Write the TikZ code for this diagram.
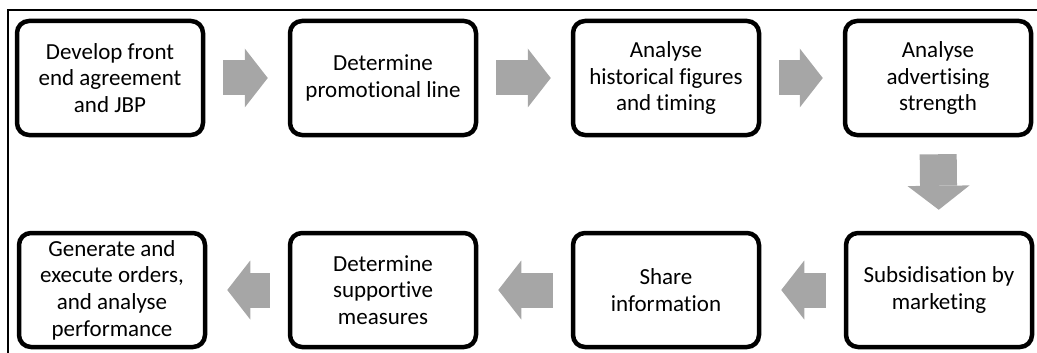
\documentclass[tikz,border=0pt]{standalone}
\usepackage{fontspec}
\setmainfont[Ligatures=NoCommon]{Carlito}
\usetikzlibrary{arrows.meta}
\definecolor{arrowgray}{HTML}{A6A6A6}
\tikzset{
  stepbox/.style={draw=black, line width=4.5pt, rounded corners=12pt, minimum width=186pt, minimum height=114pt, align=center, inner sep=0pt, font=\fontsize{23}{26.7}\selectfont, fill=white},
  bigarrow/.style={draw=arrowgray, line width=35pt, -{Triangle[width=59pt,length=23pt,line width=0pt]}, shorten <=18pt, shorten >=20pt},
  downarrow/.style={draw=arrowgray, line width=37pt, -{Triangle[width=62pt,length=24pt,line width=0pt]}}
}
\begin{document}
\begin{tikzpicture}[x=1pt,y=1pt]
\useasboundingbox (0,0) rectangle (1037,-353);
\draw[line width=1.5pt] (8,-353) -- (8,-10) -- (1037,-10);
\node[stepbox] (n1) at (110,-78) {Develop front\\end agreement\\and JBP};
\node[stepbox] (n2) at (383,-78) {Determine\\promotional line};
\node[stepbox] (n3) at (666,-78) {Analyse\\historical figures\\and timing};
\node[stepbox] (n4) at (938,-78) {Analyse\\advertising\\strength};
\node[stepbox] (n5) at (939,-290) {Subsidisation by\\marketing};
\node[stepbox] (n6) at (666,-290) {Share\\information};
\node[stepbox] (n7) at (383,-290) {Determine\\supportive\\measures};
\node[stepbox] (n8) at (112,-290) {Generate and\\execute orders,\\and analyse\\performance};
\draw[bigarrow] (n1) -- (n2);
\draw[bigarrow] (n2) -- (n3);
\draw[bigarrow] (n3) -- (n4);
\draw[downarrow, shorten <=17pt, shorten >=21pt] (n4.south) -- (n5.north);
\draw[bigarrow] (n5) -- (n6);
\draw[bigarrow] (n6) -- (n7);
\draw[bigarrow] (n7) -- (n8);
\end{tikzpicture}
\end{document}
